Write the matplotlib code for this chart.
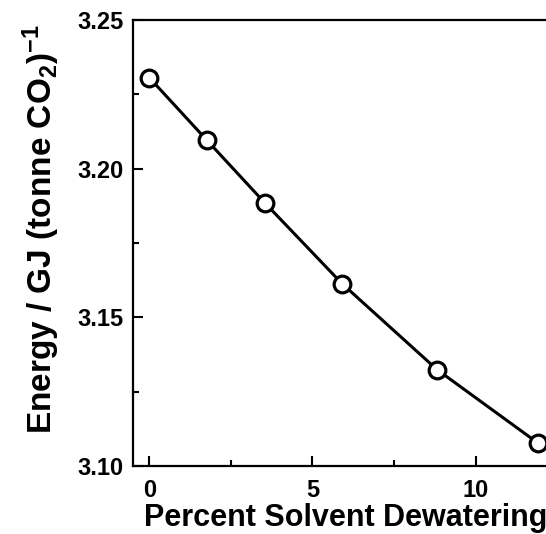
import matplotlib
matplotlib.use("Agg")
import matplotlib.pyplot as plt
from matplotlib.ticker import MultipleLocator, FormatStrFormatter

# dewatering (%) vs regeneration energy
dewatering = [0.0, 1.77, 3.54, 5.91, 8.82, 11.90]
energy = [3.2306, 3.2095, 3.1885, 3.1613, 3.1324, 3.1078]

plt.rcParams['font.family'] = 'Liberation Sans'
plt.rcParams['font.weight'] = 'bold'
plt.rcParams['mathtext.fontset'] = 'custom'
plt.rcParams['mathtext.rm'] = 'Liberation Sans:bold'
plt.rcParams['mathtext.bf'] = 'Liberation Sans:bold'
plt.rcParams['mathtext.default'] = 'bf'

fig = plt.figure(figsize=(5.46, 5.34), dpi=100)
ax = fig.add_axes([0.2436, 0.1273, 0.8068, 0.8352])

ax.plot(dewatering, energy, color='black', lw=2.2, marker='o', ms=12,
        mfc='white', mec='black', mew=2.3, clip_on=False)

ax.set_xlim(-0.5, 13)
ax.set_ylim(3.10, 3.25)
ax.xaxis.set_major_locator(MultipleLocator(5))
ax.xaxis.set_minor_locator(MultipleLocator(2.5))
ax.yaxis.set_major_locator(MultipleLocator(0.05))
ax.yaxis.set_minor_locator(MultipleLocator(0.025))
ax.yaxis.set_major_formatter(FormatStrFormatter('%.2f'))

ax.tick_params(which='both', direction='in', width=1.5, labelsize=17)
ax.tick_params(axis='y', pad=7)
ax.tick_params(axis='x', pad=9)
ax.tick_params(which='major', length=7)
ax.tick_params(which='minor', length=4)
for s in ax.spines.values():
    s.set_linewidth(1.6)

ax.set_xlabel('Percent Solvent Dewatering', fontsize=22, fontweight='bold')
ax.set_ylabel(r'Energy / GJ (tonne CO$_2$)$^{-1}$', fontsize=24, fontweight='bold')
ax.xaxis.set_label_coords(0.483, -0.083)
ax.yaxis.set_label_coords(-0.161, 0.531)

fig.savefig('out.png', dpi=100)
